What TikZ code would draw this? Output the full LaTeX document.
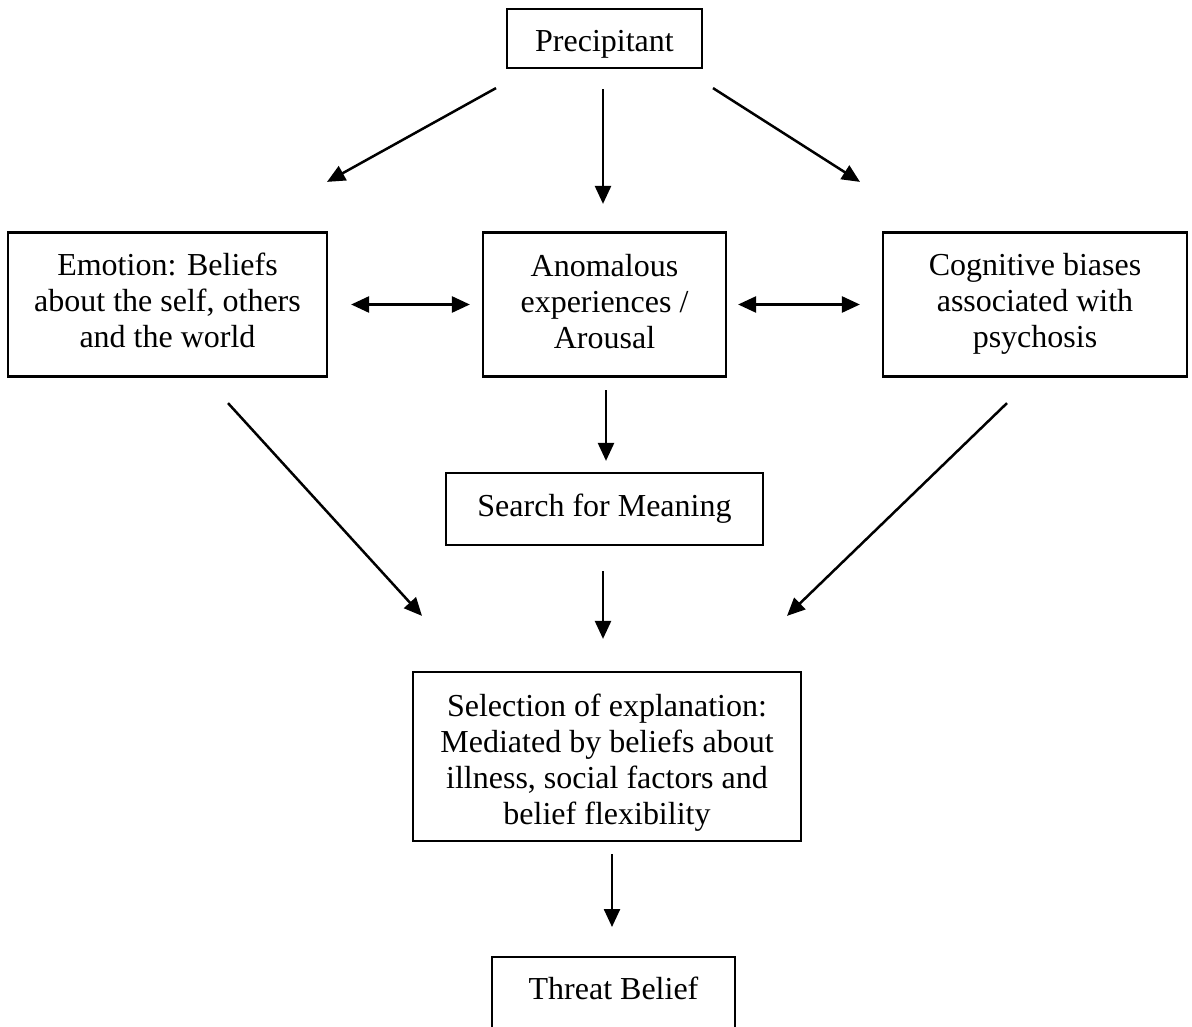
\documentclass[tikz,border=0pt]{standalone}
\usepackage{fontspec}
\setmainfont{Liberation Serif}
\usetikzlibrary{arrows.meta}
\newcommand{\toph}[1]{\rule{0pt}{#1}}
\newcommand{\botd}[1]{\rule[-#1]{0pt}{#1}}
\begin{document}
\begin{tikzpicture}[x=1pt,y=-1pt,
  box/.style={draw, line width=2.2pt, align=center, inner sep=0pt,
    font=\fontsize{32}{36}\selectfont},
  arr/.style={line width=2.5pt, -{Triangle[length=18pt,width=16pt]}},
  darr/.style={line width=2.5pt, {Triangle[length=18pt,width=16pt]}-{Triangle[length=18pt,width=16pt]}}]
\useasboundingbox (0,0) rectangle (1192,1027);
\clip (0,0) rectangle (1192,1027);
\fill[white] (0,0) rectangle (1192,1027);

\node[box, minimum width=195pt, minimum height=59pt, text height=26pt, text depth=0pt] (prec) at (604.5,38.5) {Precipitant};
\node[box, minimum width=319pt, minimum height=144pt] (emo) at (167.5,304.5)
  {\toph{22pt}Emotion: Beliefs\\about the self, others\\and the world\botd{9pt}};
\node[box, minimum width=243pt, minimum height=144pt] (anom) at (604.5,304.5)
  {\toph{22pt}Anomalous\\experiences /\\Arousal\botd{7pt}};
\node[box, minimum width=304pt, minimum height=144pt] (cog) at (1035,304.5)
  {\toph{22pt}Cognitive biases\\associated with\\psychosis\botd{9pt}};
\node[box, minimum width=317pt, minimum height=72pt, text height=22pt, text depth=8pt] (search) at (604.5,509) {Search for Meaning};
\node[box, minimum width=388pt, minimum height=169pt] (sel) at (607,756.5)
  {\toph{36pt}Selection of explanation:\\Mediated by beliefs about\\illness, social factors and\\belief flexibility\botd{8pt}};
\node[box, anchor=north, minimum width=243pt, inner ysep=20pt, text height=22pt, text depth=90pt] (threat) at (613.5,956) {Threat Belief};

\draw[arr] ([shift={(-108.5,19)}]prec.south) -- ([shift={(159.5,-49.5)}]emo.north);
\draw[arr] ([shift={(-1.5,20)}]prec.south) -- ([shift={(-1.5,-27.5)}]anom.north);
\draw[arr] ([shift={(108.5,19)}]prec.south) -- ([shift={(-175,-49.5)}]cog.north);
\draw[darr] ([shift={(23,0)}]emo.east) -- ([shift={(-12,0)}]anom.west);
\draw[darr] ([shift={(11,0)}]anom.east) -- ([shift={(-22,0)}]cog.west);
\draw[arr] ([shift={(1.5,12.5)}]anom.south) -- ([shift={(1.5,-11)}]search.north);
\draw[arr] ([shift={(60.5,25.5)}]emo.south) -- ([shift={(-185,-55)}]sel.north);
\draw[arr] ([shift={(-28,25.5)}]cog.south) -- ([shift={(180,-55)}]sel.north);
\draw[arr] ([shift={(-1.5,25)}]search.south) -- ([shift={(-4,-32)}]sel.north);
\draw[arr] ([shift={(5,12)}]sel.south) -- ([shift={(-1.5,-29)}]threat.north);
\end{tikzpicture}
\end{document}
